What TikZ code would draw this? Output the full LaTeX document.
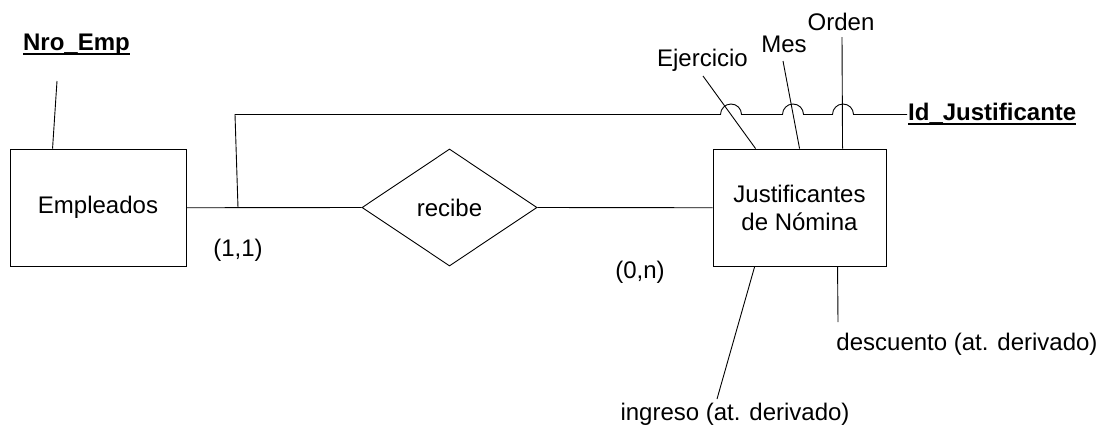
\documentclass[tikz,border=0pt]{standalone}
\usepackage{fontspec}
\setmainfont{Liberation Sans}
\usetikzlibrary{shapes.geometric,calc}

% bold, underlined key attribute
\newcommand{\keyattr}[1]{\setbox0\hbox{\bfseries #1}\rlap{\rule[-4.5pt]{\wd0}{2pt}}\box0}

\begin{document}
\begin{tikzpicture}[x=1pt,y=-1pt,
  every node/.style={font=\fontsize{24}{28}\selectfont, inner sep=0pt},
  conn/.style={line width=0.9pt, black},
  entity/.style={draw, line width=0.9pt, rectangle, minimum height=117.5pt},
  relation/.style={draw, line width=0.9pt, diamond, minimum width=175pt, minimum height=117pt},
  attr/.style={anchor=base},
  card/.style={anchor=base}]
\useasboundingbox (0,0) rectangle (1100,426);

% entities and relationship
\node[entity, minimum width=176pt] (emp) at (98,207.75) {Empleados};
\node[relation] (rec) at (449.5,207.5) {recibe};
\node[entity, minimum width=173pt, align=center] (jus) at (799.5,207.75)
  {Justificantes\\de Nómina};

\draw[conn] (emp.east) -- (rec.west);
\draw[conn] (rec.east) -- (jus.west);

% cardinalities
\node[card] (c11) at (238,256) {(1,1)};
\node[card] (c0n) at (640,278) {(0,n)};

% attributes of Empleados
\node[attr] (nro) at (76.5,50) {\keyattr{Nro\_Emp}};
\coordinate (nroEnd) at (57,81);
\draw[conn] (nroEnd) -- ($(emp.north west)+(43,0)$);

% attributes of Justificantes de Nómina
\node[attr] (eje) at (702.5,66) {Ejercicio};
\node[attr] (mes) at (784,52) {Mes};
\node[attr] (ord) at (841,30) {Orden};
\node[anchor=base west] (idj) at (908,120) {\keyattr{Id\_Justificante}};
\node[attr] (des) at (967,350) {descuento (at. derivado)};
\node[attr] (ing) at (735,420) {ingreso (at. derivado)};

\coordinate (ejeEnd) at (703,76);
\coordinate (mesEnd) at (783,61);
\coordinate (ordEnd) at (842,37);
\coordinate (desEnd) at (838,322);
\coordinate (ingEnd) at (717,399);

\draw[conn] (ejeEnd) -- ($(jus.north west)+(43,0)$);
\draw[conn] (mesEnd) -- ($(jus.north west)+(87,0)$);
\draw[conn] (ordEnd) -- ($(jus.north west)+(130,0)$);
\draw[conn] ($(jus.south west)+(125,0)$) -- (desEnd);
\draw[conn] ($(jus.south west)+(42,0)$) -- (ingEnd);

% composite identifier line, hopping over the attribute lines
\coordinate (keyFoot) at (238,207.75);
\coordinate (keyEnd) at (907,114.5);
\draw[conn] (keyFoot) -- (235,114.5)
  -- (720.5,114.5) arc[start angle=180, end angle=0, radius=10.5pt]
  -- (782.5,114.5) arc[start angle=180, end angle=0, radius=10.5pt]
  -- (832.5,114.5) arc[start angle=180, end angle=0, radius=10.5pt]
  -- (keyEnd);
\end{tikzpicture}
\end{document}
